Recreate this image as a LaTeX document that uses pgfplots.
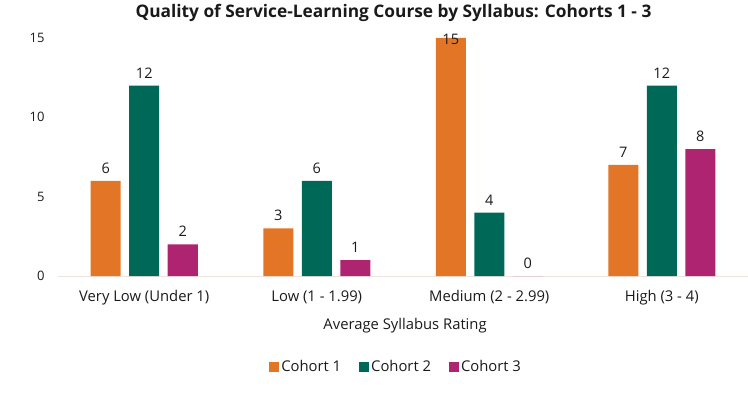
\documentclass[border=0pt]{standalone}
\usepackage{pgfplots}
\pgfplotsset{compat=1.18}
\usepackage{fontspec}
\setmainfont{Open Sans}
\definecolor{cA}{HTML}{E37526}
\definecolor{cB}{HTML}{006857}
\definecolor{cC}{HTML}{AF2471}
\definecolor{txt}{HTML}{1A1A1A}
\definecolor{base}{HTML}{EDE4E0}
\begin{document}
\begin{tikzpicture}[x=1bp,y=1bp]
\begin{axis}[
  at={(0bp,0bp)}, anchor=south west,
  width=690bp, height=238bp, scale only axis,
  xmin=-0.5, xmax=3.5, ymin=0, ymax=15,
  clip=false,
  ybar=8.5bp, bar width=30bp,
  axis x line*=bottom,
  axis y line*=left,
  y axis line style={draw=none},
  x axis line style={draw=base, line width=1bp},
  major tick length=0pt,
  xtick={0,1,2,3},
  xticklabels={Very Low (Under 1),Low (1 - 1.99),Medium (2 - 2.99),High (3 - 4)},
  ytick={0,5,10,15},
  /pgf/number format/assume math mode=true,
  xticklabel style={font=\fontsize{14.8bp}{16bp}\selectfont, text=txt, yshift=-11bp},
  yticklabel style={font=\fontsize{13bp}{14bp}\selectfont, text=txt, xshift=-10bp},
  xlabel={Average Syllabus Rating},
  xlabel style={font=\fontsize{14.8bp}{16bp}\selectfont, text=txt, at={(axis description cs:0.503,-0.21)}, anchor=center},
  nodes near coords,
  every node near coord/.append style={font=\fontsize{14.5bp}{16bp}\selectfont, text=txt, yshift=4bp},
  legend style={at={(0.49,-0.382)}, anchor=center, draw=none, legend columns=3, font=\fontsize{14.8bp}{16bp}\selectfont, text=txt,
    /tikz/every odd column/.append style={column sep=0bp},
    /tikz/every even column/.append style={column sep=16bp},
    nodes={inner xsep=2bp}},
  legend cell align=left,
  legend image code/.code={\fill[#1] (0bp,-5bp) rectangle (10bp,5bp);},
]
\addplot[fill=cA, draw=none, coordinate style/.condition={y>14}{yshift=-14bp}] coordinates {(0,6) (1,3) (2,15) (3,7)};
\addplot[fill=cB, draw=none] coordinates {(0,12) (1,6) (2,4) (3,12)};
\addplot[fill=cC, draw=none] coordinates {(0,2) (1,1) (2,0) (3,8)};
\legend{Cohort 1,Cohort 2,Cohort 3}
\end{axis}
\node[font=\bfseries\fontsize{17.3bp}{19bp}\selectfont, text=txt] at (335.5bp,263bp) {Quality of Service-Learning Course by Syllabus: Cohorts 1 - 3};
\pgfresetboundingbox
\path[use as bounding box] (-58bp,-121bp) rectangle (690bp,276bp);
\end{tikzpicture}
\end{document}
